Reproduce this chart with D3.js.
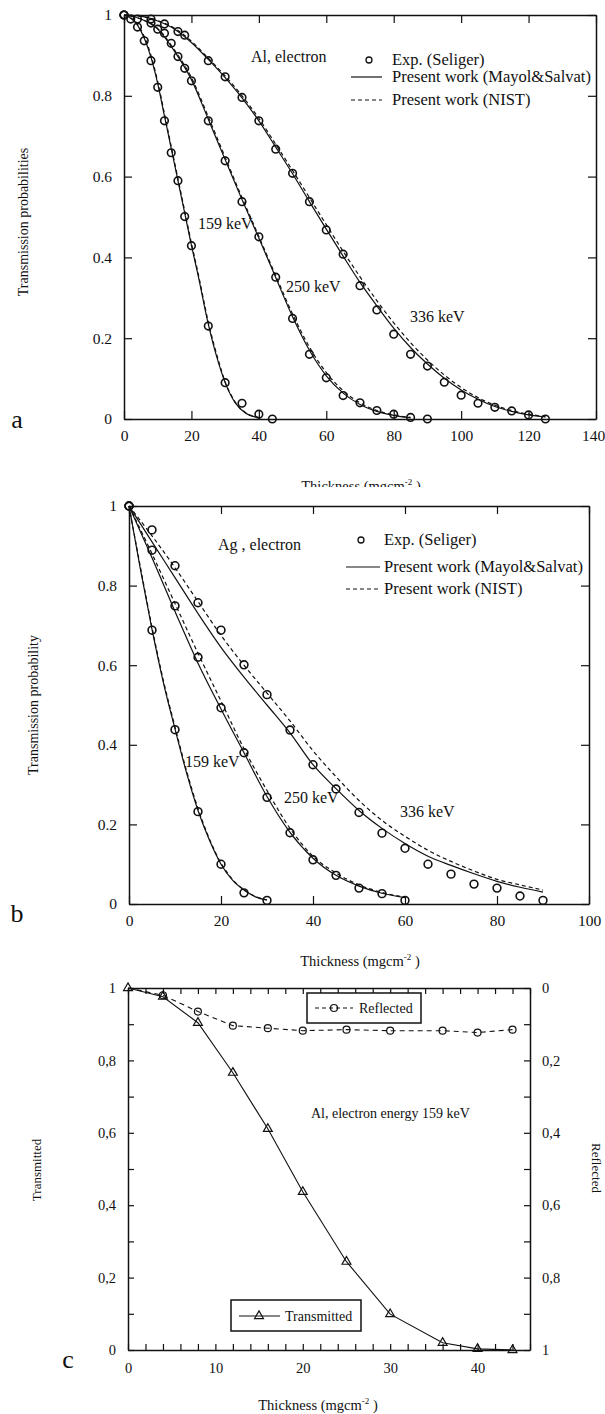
<!DOCTYPE html>
<html><head><meta charset="utf-8">
<script src="https://cdn.jsdelivr.net/npm/d3@7"></script>
<style>
html,body{margin:0;padding:0;background:#fff;}
svg{display:block;}
svg text{font-family:"Liberation Serif","Times New Roman","DejaVu Serif",serif !important;}
</style></head><body>
<script>
// ================= DATA =================
// Panel a : Al, electron (transmission vs thickness, mg/cm^2)
const aThickExp159 = [0,2,4,6,8,10,12,14,16,18,20,25,30,35,40,44];
const aExp159      = [1,0.99,0.97,0.936,0.887,0.821,0.738,0.659,0.59,0.501,0.429,0.23,0.09,0.039,0.012,0.0];
const aThickExp250 = [0,4,8,10,12,14,16,18,20,25,30,35,40,45,50,55,60,65,70,75,80,85,90];
const aExp250      = [1,0.99,0.98,0.965,0.955,0.93,0.897,0.868,0.837,0.738,0.639,0.538,0.451,0.351,0.249,0.16,0.102,0.058,0.04,0.021,0.012,0.004,0.0];
const aThickExp336 = [0,8,12,16,18,25,30,35,40,45,50,55,60,65,70,75,80,85,90,95,100,105,110,115,120,125];
const aExp336      = [1,0.99,0.978,0.959,0.95,0.887,0.847,0.796,0.738,0.668,0.608,0.538,0.468,0.408,0.33,0.27,0.21,0.16,0.131,0.091,0.059,0.039,0.029,0.02,0.01,0.0];

const aCalcThick159 = [0,4,8,10,12,14,16,18,20,22,25,28,30,33,36,40];
const aMS159        = [1,0.975,0.895,0.83,0.75,0.67,0.59,0.51,0.43,0.355,0.235,0.14,0.09,0.04,0.015,0.003];
const aNIST159      = [1,0.977,0.9,0.835,0.755,0.675,0.595,0.515,0.435,0.36,0.24,0.145,0.092,0.042,0.016,0.004];
const aCalcThick250 = [0,5,10,15,20,25,30,35,40,45,50,55,60,65,70,75,80,85];
const aMS250        = [1,0.99,0.965,0.91,0.84,0.742,0.642,0.543,0.448,0.35,0.253,0.17,0.107,0.064,0.036,0.019,0.009,0.003];
const aNIST250      = [1,0.99,0.967,0.913,0.845,0.748,0.648,0.548,0.452,0.355,0.26,0.178,0.115,0.07,0.04,0.021,0.01,0.004];
const aCalcThick336 = [0,5,10,15,20,25,30,35,40,45,50,55,60,65,70,75,80,85,90,95,100,105,110,115,120,125];
const aMS336        = [1,0.997,0.985,0.965,0.932,0.89,0.845,0.795,0.738,0.673,0.607,0.538,0.47,0.403,0.338,0.28,0.225,0.177,0.136,0.101,0.072,0.049,0.031,0.019,0.01,0.005];
const aNIST336      = [1,0.997,0.986,0.967,0.935,0.893,0.849,0.8,0.744,0.68,0.615,0.548,0.481,0.415,0.352,0.293,0.238,0.189,0.146,0.109,0.078,0.053,0.034,0.021,0.012,0.006];

const aXTicks = [0,20,40,60,80,100,120,140];
const aYTicks = [0,0.2,0.4,0.6,0.8,1];

// Panel b : Ag, electron
const bThickExp159 = [0,5,10,15,20,25,30];
const bExp159      = [1,0.688,0.438,0.232,0.1,0.028,0.009];
const bThickExp250 = [0,5,10,15,20,25,30,35,40,45,50,55,60];
const bExp250      = [1,0.889,0.749,0.62,0.493,0.38,0.268,0.179,0.111,0.072,0.04,0.026,0.009];
const bThickExp336 = [0,5,10,15,20,25,30,35,40,45,50,55,60,65,70,75,80,85,90];
const bExp336      = [1,0.94,0.85,0.757,0.688,0.601,0.526,0.437,0.35,0.289,0.23,0.178,0.14,0.1,0.075,0.05,0.04,0.02,0.009];

const bCalcThick159 = [0,2.5,5,7.5,10,12.5,15,17.5,20,22.5,25,27.5,30];
const bMS159        = [1,0.84,0.69,0.555,0.44,0.33,0.235,0.16,0.1,0.06,0.035,0.018,0.01];
const bNIST159      = [1,0.845,0.695,0.56,0.445,0.335,0.24,0.163,0.103,0.062,0.036,0.019,0.01];
const bCalcThick250 = [0,5,10,15,20,25,30,35,40,45,50,55,60];
const bMS250        = [1,0.87,0.735,0.605,0.49,0.38,0.27,0.18,0.115,0.072,0.045,0.027,0.016];
const bNIST250      = [1,0.88,0.755,0.63,0.51,0.39,0.285,0.19,0.12,0.078,0.048,0.029,0.017];
const bCalcThick336 = [0,5,10,15,20,25,30,35,40,45,50,55,60,65,70,75,80,85,90];
const bMS336        = [1,0.91,0.82,0.73,0.645,0.57,0.5,0.43,0.35,0.29,0.235,0.19,0.152,0.12,0.097,0.076,0.057,0.042,0.03];
const bNIST336      = [1,0.925,0.845,0.76,0.675,0.6,0.53,0.46,0.385,0.32,0.26,0.21,0.17,0.135,0.107,0.083,0.062,0.048,0.035];

const bXTicks = [0,20,40,60,80,100];
const bYTicks = [0,0.2,0.4,0.6,0.8,1];

// Panel c : Al, electron energy 159 keV
const cThick       = [0,4,8,12,16,20,25,30,36,40,44];
const cTransmitted = [1.0,0.976,0.904,0.766,0.611,0.437,0.244,0.099,0.02,0.003,0.0];
const cReflected   = [0.0,0.02,0.065,0.104,0.111,0.118,0.115,0.118,0.118,0.123,0.115];
const cXTicks = d3.range(0,47,2);
const cXLabels = [0,10,20,30,40];
const cYTicks = d3.range(0,11).map(i=>i/10);
const cYLabels = [0,0.2,0.4,0.6,0.8,1];

// ================= DRAWING =================
const INK = "#111";
const svg = d3.select("body").append("svg").attr("width",605).attr("height",1414);
svg.append("rect").attr("width",605).attr("height",1414).attr("fill","#fff");

function styleAxis(g, fs){
  g.attr("font-family", null).attr("font-size", fs);
  g.select(".domain").attr("stroke", INK).attr("stroke-width", 1.5);
  g.selectAll(".tick line").attr("stroke", INK).attr("stroke-width", 1.2);
  g.selectAll(".tick text").attr("fill", INK);
}
function frame(x, y, o){
  const [xa, xb] = x.range(); const [yb, ya] = y.range();
  const gb = svg.append("g").attr("transform",`translate(0,${yb})`)
    .call(d3.axisBottom(x).tickValues(o.xTicks).tickFormat(o.xFmt).tickSize(-o.tl).tickSizeOuter(0).tickPadding(o.xPad));
  styleAxis(gb, o.fs);
  if (o.lastDx) gb.selectAll(".tick text").filter((d,i,n)=>i===n.length-1).attr("dx", o.lastDx);
  styleAxis(svg.append("g").attr("transform",`translate(0,${ya})`)
    .call(d3.axisTop(x).tickValues(o.xTicks).tickFormat("").tickSize(-o.tl).tickSizeOuter(0)), o.fs);
  styleAxis(svg.append("g").attr("transform",`translate(${xa},0)`)
    .call(d3.axisLeft(y).tickValues(o.yTicks).tickFormat(o.yFmt).tickSize(-o.tl).tickSizeOuter(0).tickPadding(o.yPad)), o.fs);
  const yr = o.yRight || y;
  styleAxis(svg.append("g").attr("transform",`translate(${xb},0)`)
    .call(d3.axisRight(yr).tickValues(o.yTicks).tickFormat(o.yRFmt || "").tickSize(-o.tl).tickSizeOuter(0).tickPadding(o.yPad)), o.fs);
}
function curve(x, y, xs, ys, dash, crv, sw){
  svg.append("path").datum(d3.zip(xs, ys))
    .attr("d", d3.line().x(d=>x(d[0])).y(d=>y(d[1])).curve(crv || d3.curveMonotoneX))
    .attr("fill","none").attr("stroke",INK).attr("stroke-width", sw || 1.2)
    .attr("stroke-dasharray", dash || null);
}
function circles(x, y, xs, ys, r, sw){
  svg.append("g").selectAll("circle").data(d3.zip(xs, ys)).join("circle")
    .attr("cx", d=>x(d[0])).attr("cy", d=>y(d[1])).attr("r", r)
    .attr("fill","none").attr("stroke",INK).attr("stroke-width", sw || 1.6);
}
function txt(x, y, s, fs, anchor){
  return svg.append("text").attr("x",x).attr("y",y)
    .attr("font-size",fs).attr("fill",INK).attr("text-anchor",anchor||"start").text(s);
}
function thicknessLabel(cx, by, fs, clipId){
  const t = svg.append("text").attr("x",cx).attr("y",by)
    .attr("font-size",fs).attr("fill",INK).attr("text-anchor","middle");
  if (clipId) t.attr("clip-path",`url(#${clipId})`);
  t.append("tspan").text("Thickness (mgcm");
  t.append("tspan").attr("dy",-6).attr("font-size",fs*0.62).text("-2");
  t.append("tspan").attr("dy",6).text(" )");
}
function yLabel(x, y, s, fs, rot){
  svg.append("text").attr("transform",`translate(${x},${y}) rotate(${rot})`)
    .attr("font-size",fs).attr("fill",INK)
    .attr("text-anchor","middle").text(s);
}
const fmtDot = d => (d===0||d===1) ? String(d) : d.toFixed(1);
const fmtComma = d => (Math.abs(d)<1e-9||Math.abs(d-1)<1e-9) ? String(Math.round(d)) : d.toFixed(1).replace(".",",");

// ---------- Panel a ----------
{
  const x = d3.scaleLinear().domain([0,140]).range([124,596]);
  const y = d3.scaleLinear().domain([0,1]).range([419,15]);
  frame(x, y, {xTicks:aXTicks, yTicks:aYTicks, xFmt:d=>d, yFmt:fmtDot, tl:8, xPad:11, yPad:12, fs:15.5, lastDx:-3});
  curve(x,y,aCalcThick159,aMS159); curve(x,y,aCalcThick159,aNIST159,"4,3");
  curve(x,y,aCalcThick250,aMS250); curve(x,y,aCalcThick250,aNIST250,"4,3");
  curve(x,y,aCalcThick336,aMS336); curve(x,y,aCalcThick336,aNIST336,"4,3");
  circles(x,y,aThickExp159,aExp159,3.8); circles(x,y,aThickExp250,aExp250,3.8); circles(x,y,aThickExp336,aExp336,3.8);
  txt(251,62,"Al, electron",16);
  svg.append("circle").attr("cx",369).attr("cy",60).attr("r",3).attr("fill","none").attr("stroke",INK).attr("stroke-width",1.3);
  txt(392,65,"Exp. (Seliger)",16.5);
  svg.append("line").attr("x1",351).attr("x2",382).attr("y1",77).attr("y2",77).attr("stroke",INK).attr("stroke-width",1.2);
  txt(392,82,"Present work (Mayol&Salvat)",16.5);
  svg.append("line").attr("x1",351).attr("x2",382).attr("y1",100).attr("y2",100).attr("stroke",INK).attr("stroke-width",1.2).attr("stroke-dasharray","4,3");
  txt(392,105,"Present work (NIST)",16.5);
  txt(198,229,"159 keV",16); txt(286,292,"250 keV",16); txt(410,322,"336 keV",16);
  yLabel(28,222,"Transmission probabilities",14,-90);
  svg.append("clipPath").attr("id","clipA").append("rect").attr("x",0).attr("y",0).attr("width",605).attr("height",487);
  thicknessLabel(361,491,14.5,"clipA");
  txt(17,428,"a",26,"middle");
}

// ---------- Panel b ----------
{
  const x = d3.scaleLinear().domain([0,100]).range([129,589]);
  const y = d3.scaleLinear().domain([0,1]).range([904,506]);
  frame(x, y, {xTicks:bXTicks, yTicks:bYTicks, xFmt:d=>d, yFmt:fmtDot, tl:8, xPad:11, yPad:12, fs:15.5});
  curve(x,y,bCalcThick159,bMS159); curve(x,y,bCalcThick159,bNIST159,"4,3");
  curve(x,y,bCalcThick250,bMS250); curve(x,y,bCalcThick250,bNIST250,"4,3");
  curve(x,y,bCalcThick336,bMS336); curve(x,y,bCalcThick336,bNIST336,"4,3");
  circles(x,y,bThickExp159,bExp159,3.9); circles(x,y,bThickExp250,bExp250,3.9); circles(x,y,bThickExp336,bExp336,3.9);
  txt(218,550,"Ag , electron",16);
  svg.append("circle").attr("cx",361).attr("cy",540).attr("r",3).attr("fill","none").attr("stroke",INK).attr("stroke-width",1.3);
  txt(384,545,"Exp. (Seliger)",16.5);
  svg.append("line").attr("x1",346).attr("x2",380).attr("y1",567).attr("y2",567).attr("stroke",INK).attr("stroke-width",1.2);
  txt(384,572,"Present work (Mayol&Salvat)",16.5);
  svg.append("line").attr("x1",346).attr("x2",380).attr("y1",589).attr("y2",589).attr("stroke",INK).attr("stroke-width",1.2).attr("stroke-dasharray","4,3");
  txt(384,594,"Present work (NIST)",16.5);
  txt(185,767,"159 keV",16); txt(284,803,"250 keV",16); txt(400,817,"336 keV",16);
  yLabel(38,705,"Transmission probability",14,-90);
  thicknessLabel(360,966,14.5);
  txt(17,922,"b",26,"middle");
}

// ---------- Panel c ----------
{
  const x = d3.scaleLinear().domain([0,46]).range([128,530]);
  const y = d3.scaleLinear().domain([0,1]).range([1350,988]);
  const yR = d3.scaleLinear().domain([0,1]).range([988,1350]);
  frame(x, y, {xTicks:cXTicks, yTicks:cYTicks, yRight:yR,
    xFmt:d=> cXLabels.includes(d) ? d : "",
    yFmt:d=> cYLabels.some(v=>Math.abs(v-d)<1e-9) ? fmtComma(d) : "",
    yRFmt:d=> cYLabels.some(v=>Math.abs(v-d)<1e-9) ? fmtComma(d) : "",
    tl:6, xPad:13, yPad:12, fs:14.5});
  curve(x,y,cThick,cTransmitted,null,d3.curveLinear,1.1);
  curve(x,yR,cThick,cReflected,"5,4",d3.curveLinear,1.1);
  const tri = d3.symbol().type(d3.symbolTriangle).size(34);
  svg.append("g").selectAll("path").data(d3.zip(cThick,cTransmitted)).join("path")
    .attr("transform", d=>`translate(${x(d[0])},${y(d[1])})`).attr("d", tri)
    .attr("fill","none").attr("stroke",INK).attr("stroke-width",1.2);
  const refPts = d3.zip(cThick,cReflected).filter(d=>d[1]>0);
  circles(x,yR,refPts.map(d=>d[0]),refPts.map(d=>d[1]),3.5,1.2);
  // legend Reflected
  svg.append("rect").attr("x",307).attr("y",993).attr("width",114).attr("height",30).attr("fill","#fff").attr("stroke",INK).attr("stroke-width",1.5);
  svg.append("line").attr("x1",315).attr("x2",353).attr("y1",1008).attr("y2",1008).attr("stroke",INK).attr("stroke-width",1.1).attr("stroke-dasharray","4,3");
  svg.append("circle").attr("cx",334).attr("cy",1008).attr("r",3.5).attr("fill","none").attr("stroke",INK).attr("stroke-width",1.2);
  txt(359,1013,"Reflected",14);
  // legend Transmitted
  svg.append("rect").attr("x",231).attr("y",1300).attr("width",130).attr("height",31).attr("fill","#fff").attr("stroke",INK).attr("stroke-width",1.5);
  svg.append("line").attr("x1",239).attr("x2",280).attr("y1",1316).attr("y2",1316).attr("stroke",INK).attr("stroke-width",1.1);
  svg.append("path").attr("transform","translate(259,1316)").attr("d",tri).attr("fill","none").attr("stroke",INK).attr("stroke-width",1.2);
  txt(285,1321,"Transmitted",14);
  txt(311,1118,"Al, electron energy 159 keV",14);
  yLabel(41,1170,"Transmitted",13,-90);
  yLabel(592,1168,"Reflected",13,90);
  thicknessLabel(318,1410,14.5);
  txt(68,1368,"c",26,"middle");
}
</script></body></html>
